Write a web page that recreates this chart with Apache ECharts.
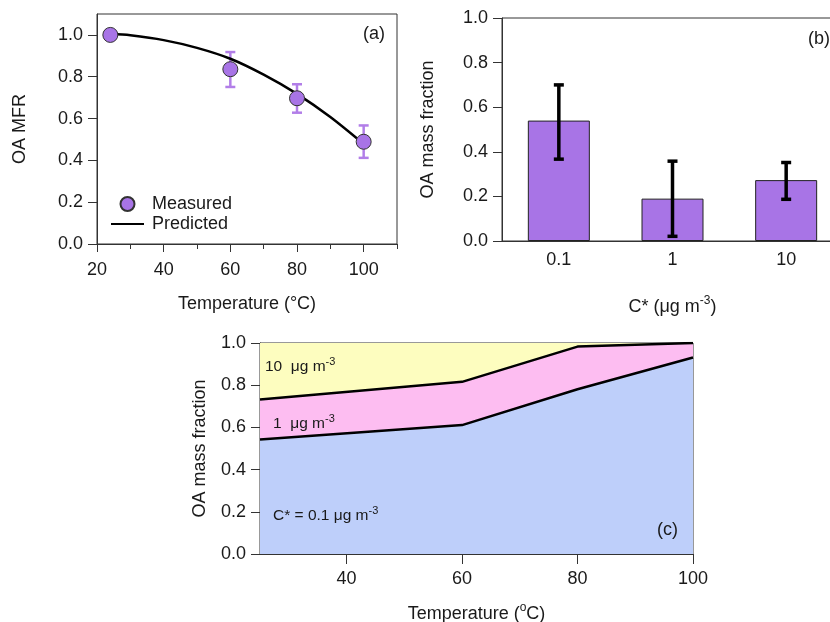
<!DOCTYPE html>
<html>
<head>
<meta charset="utf-8">
<script src="https://cdn.jsdelivr.net/npm/echarts@6/dist/echarts.min.js"></script>
<style>
  body { margin: 0; background: #fff; }
  #container { width: 830px; height: 622px; }
</style>
</head>
<body>
<div id="container"></div>
<script>
// (a) measured vs predicted MFR
const tempA = [24, 60, 80, 100]
const mfrMeasured = [1.0, 0.836, 0.697, 0.489]
const mfrLow = [1.0, 0.751, 0.628, 0.412]
const mfrHigh = [1.0, 0.918, 0.764, 0.567]
const tempPred = [24, 30, 40, 50, 60, 70, 80, 90, 100]
const mfrPred = [1.005, 0.998, 0.975, 0.938, 0.886, 0.81, 0.718, 0.607, 0.478]

// (b) mass fraction per volatility bin
const cStar = ['0.1', '1', '10']
const massFrac = [0.54, 0.19, 0.273]
const massLow = [0.367, 0.021, 0.187]
const massHigh = [0.70, 0.358, 0.352]

// (c) fractions vs temperature
const tempC = [25, 60, 80, 100]
const frac01 = [0.543, 0.611, 0.781, 0.931]
const frac1 = [0.189, 0.205, 0.202, 0.069]
const frac10 = [0.268, 0.184, 0.017, 0.0]

const yTicks = [0, 0.2, 0.4, 0.6, 0.8, 1.0]

const ink = '#1a1a1a'
const axisCol = '#333'
const purple = '#a874e6'
const font = 'Arial, "Liberation Sans", sans-serif'

let chart = echarts.init(document.getElementById('container'), null, { renderer: 'canvas' })

// vertical error bar with caps
function errBar(color, width, cap) {
  return function(params, api) {
    let lo = api.coord([api.value(0), api.value(1)])
    let hi = api.coord([api.value(0), api.value(2)])
    let st = { stroke: color, lineWidth: width }
    return {
      type: 'group',
      children: [
        { type: 'line', shape: { x1: lo[0], y1: lo[1], x2: hi[0], y2: hi[1] }, style: st },
        { type: 'line', shape: { x1: lo[0] - cap, y1: lo[1], x2: lo[0] + cap, y2: lo[1] }, style: st },
        { type: 'line', shape: { x1: hi[0] - cap, y1: hi[1], x2: hi[0] + cap, y2: hi[1] }, style: st }
      ]
    }
  }
}

let errA = tempA.map((t, i) => [t, mfrLow[i], mfrHigh[i]]).filter(d => d[2] > d[1])
let errB = cStar.map((c, i) => [i, massLow[i], massHigh[i]])

// cumulative boundaries for the layered areas in (c)
let top01 = tempC.map((t, i) => [t, frac01[i]])
let top1 = tempC.map((t, i) => [t, frac01[i] + frac1[i]])
let top10 = tempC.map((t, i) => [t, frac01[i] + frac1[i] + frac10[i]])

let lbl = { color: ink, fontSize: 18, fontFamily: font }
let nameStyle = {
  color: ink, fontSize: 18, fontFamily: font,
  rich: {
    sup: { fontSize: 12, fontFamily: font, color: ink, padding: [0, 0, 12, 0] }
  }
}
let supSmall = { sup: { fontSize: 11, fontFamily: font, fill: ink, padding: [0, 0, 10, 0] } }

function yAxisFor(gridIndex, max, gap, name) {
  return {
    gridIndex: gridIndex,
    type: 'value',
    min: 0,
    max: max,
    name: name,
    nameLocation: 'middle',
    nameGap: gap,
    nameTextStyle: nameStyle,
    axisLine: { show: true, lineStyle: { color: axisCol, width: 1 } },
    axisTick: { show: true, length: 9, customValues: yTicks, lineStyle: { color: axisCol } },
    axisLabel: Object.assign({ margin: 14, customValues: yTicks, formatter: v => v.toFixed(1) }, lbl),
    splitLine: { show: false }
  }
}

let option = {
  animation: false,
  grid: [
    { left: 97, top: 14, width: 300, height: 230, show: true, borderColor: axisCol, borderWidth: 1, outerBoundsMode: 'none' },
    { left: 502, top: 18, width: 341, height: 223, show: true, borderColor: axisCol, borderWidth: 1, outerBoundsMode: 'none' },
    { left: 260, top: 343, width: 433, height: 211, show: true, borderColor: axisCol, borderWidth: 1, outerBoundsMode: 'none' }
  ],
  legend: {
    data: ['Measured', { name: 'Predicted', itemStyle: { opacity: 0 } }],
    orient: 'vertical',
    left: 105,
    top: 190,
    itemWidth: 33,
    itemHeight: 14,
    itemGap: 2,
    textStyle: Object.assign({ padding: [0, 0, 0, 3] }, lbl)
  },
  xAxis: [
    {
      gridIndex: 0, type: 'value', min: 20, max: 110,
      name: 'Temperature (°C)', nameLocation: 'middle', nameGap: 51, nameTextStyle: nameStyle,
      axisLine: { lineStyle: { color: axisCol } },
      axisTick: { length: 8, customValues: [20, 40, 60, 80, 100], lineStyle: { color: axisCol } },
      axisLabel: Object.assign({ margin: 17, customValues: [20, 40, 60, 80, 100] }, lbl),
      splitLine: { show: false }
    },
    {
      // minor ticks for (a)
      gridIndex: 0, type: 'value', min: 20, max: 110, position: 'bottom',
      axisLine: { show: false },
      axisTick: { length: 5, customValues: [30, 50, 70, 90, 110], lineStyle: { color: axisCol } },
      axisLabel: { show: false },
      splitLine: { show: false }
    },
    {
      gridIndex: 1, type: 'category', data: cStar,
      name: 'C* (μg m{sup|-3})', nameLocation: 'middle', nameGap: 54, nameTextStyle: nameStyle,
      axisLine: { lineStyle: { color: axisCol } },
      axisTick: { show: false },
      axisLabel: Object.assign({ margin: 10 }, lbl)
    },
    {
      gridIndex: 2, type: 'value', min: 25, max: 100,
      name: 'Temperature ({sup|o}C)', nameLocation: 'middle', nameGap: 48, nameTextStyle: nameStyle,
      axisLine: { lineStyle: { color: axisCol } },
      axisTick: { length: 10, customValues: [40, 60, 80, 100], lineStyle: { color: axisCol } },
      axisLabel: Object.assign({ margin: 16, customValues: [40, 60, 80, 100] }, lbl),
      splitLine: { show: false }
    }
  ],
  yAxis: [
    yAxisFor(0, 1.1, 68, 'OA MFR'),
    yAxisFor(1, 1.0, 65, 'OA mass fraction'),
    yAxisFor(2, 1.0, 51, 'OA mass fraction')
  ],
  graphic: [
    { type: 'text', left: 363, top: 25, style: { text: '(a)', fill: ink, font: '18px ' + font } },
    { type: 'text', left: 808, top: 30, style: { text: '(b)', fill: ink, font: '18px ' + font } },
    { type: 'text', left: 657, top: 521, z: 10, style: { text: '(c)', fill: ink, font: '18px ' + font } },
    {
      type: 'text', left: 265, top: 356, z: 10,
      style: { text: '10  μg m{sup|-3}', fill: ink, font: '15.5px ' + font, rich: supSmall }
    },
    {
      type: 'text', left: 273, top: 413, z: 10,
      style: { text: '1  μg m{sup|-3}', fill: ink, font: '15.5px ' + font, rich: supSmall }
    },
    {
      type: 'text', left: 273, top: 505, z: 10,
      style: { text: 'C* = 0.1 μg m{sup|-3}', fill: ink, font: '15.5px ' + font, rich: supSmall }
    }
  ],
  series: [
    {
      name: 'Predicted', type: 'line', xAxisIndex: 0, yAxisIndex: 0,
      data: tempPred.map((t, i) => [t, mfrPred[i]]),
      smooth: 0.3, symbol: 'none',
      lineStyle: { color: '#000', width: 2.5 },
      itemStyle: { color: '#000' },
      z: 3
    },
    {
      name: 'errA', type: 'custom', xAxisIndex: 0, yAxisIndex: 0,
      data: errA, renderItem: errBar('#b27ee8', 2.5, 5), z: 2
    },
    {
      name: 'Measured', type: 'scatter', xAxisIndex: 0, yAxisIndex: 0,
      data: tempA.map((t, i) => [t, mfrMeasured[i]]),
      symbolSize: 15,
      itemStyle: { color: purple, borderColor: '#333', borderWidth: 1, opacity: 1 },
      z: 4
    },
    {
      name: 'bars', type: 'bar', xAxisIndex: 2, yAxisIndex: 1,
      data: massFrac, barWidth: 62,
      itemStyle: { color: purple, borderColor: '#222', borderWidth: 1 }
    },
    {
      name: 'errB', type: 'custom', xAxisIndex: 2, yAxisIndex: 1,
      data: errB, renderItem: errBar('#000', 3.5, 5), z: 5
    },
    {
      name: 'c10', type: 'line', xAxisIndex: 3, yAxisIndex: 2,
      data: top10, symbol: 'none', lineStyle: { width: 0 },
      areaStyle: { color: '#fdfdbf', opacity: 1 }, z: 2
    },
    {
      name: 'c1', type: 'line', xAxisIndex: 3, yAxisIndex: 2,
      data: top1, symbol: 'none', lineStyle: { color: '#000', width: 2.5 },
      areaStyle: { color: '#fdbdf1', opacity: 1 }, z: 3
    },
    {
      name: 'c01', type: 'line', xAxisIndex: 3, yAxisIndex: 2,
      data: top01, symbol: 'none', lineStyle: { color: '#000', width: 2.5 },
      areaStyle: { color: '#becffa', opacity: 1 }, z: 4
    }
  ]
}

option && chart.setOption(option)
</script>
</body>
</html>
